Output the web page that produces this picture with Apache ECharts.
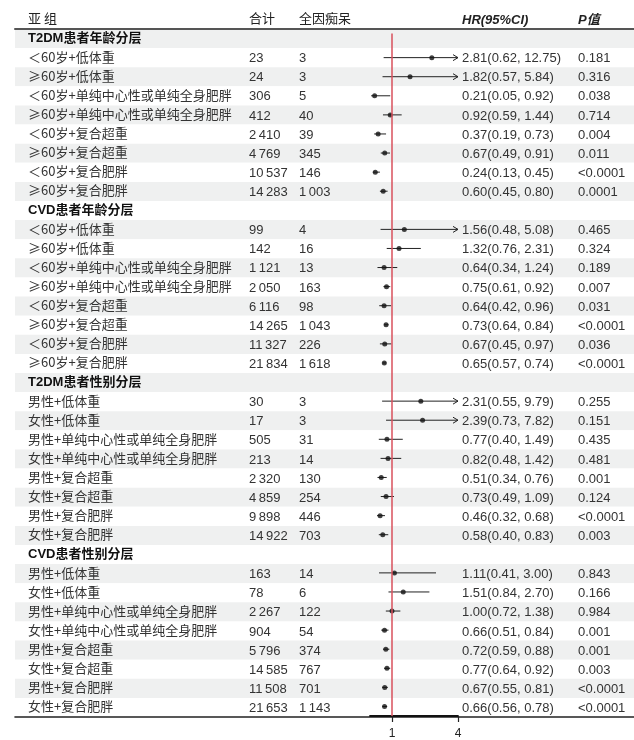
<!DOCTYPE html>
<html><head><meta charset="utf-8">
<script src="https://cdn.jsdelivr.net/npm/echarts@6/dist/echarts.min.js"></script>
<style>html,body{margin:0;padding:0;background:#fff}#c{width:634px;height:740px}</style>
</head><body><div id="c"></div>
<script>
const sections = ['T2DM患者年龄分层', 'CVD患者年龄分层', 'T2DM患者性别分层', 'CVD患者性别分层'];
const labels = [
  ['＜60岁+低体重','≥60岁+低体重','＜60岁+单纯中心性或单纯全身肥胖','≥60岁+单纯中心性或单纯全身肥胖','＜60岁+复合超重','≥60岁+复合超重','＜60岁+复合肥胖','≥60岁+复合肥胖'],
  ['＜60岁+低体重','≥60岁+低体重','＜60岁+单纯中心性或单纯全身肥胖','≥60岁+单纯中心性或单纯全身肥胖','＜60岁+复合超重','≥60岁+复合超重','＜60岁+复合肥胖','≥60岁+复合肥胖'],
  ['男性+低体重','女性+低体重','男性+单纯中心性或单纯全身肥胖','女性+单纯中心性或单纯全身肥胖','男性+复合超重','女性+复合超重','男性+复合肥胖','女性+复合肥胖'],
  ['男性+低体重','女性+低体重','男性+单纯中心性或单纯全身肥胖','女性+单纯中心性或单纯全身肥胖','男性+复合超重','女性+复合超重','男性+复合肥胖','女性+复合肥胖']
];
const totals = [
  [23, 24, 306, 412, 2410, 4769, 10537, 14283],
  [99, 142, 1121, 2050, 6116, 14265, 11327, 21834],
  [30, 17, 505, 213, 2320, 4859, 9898, 14922],
  [163, 78, 2267, 904, 5796, 14585, 11508, 21653]
];
const cases = [
  [3, 3, 5, 40, 39, 345, 146, 1003],
  [4, 16, 13, 163, 98, 1043, 226, 1618],
  [3, 3, 31, 14, 130, 254, 446, 703],
  [14, 6, 122, 54, 374, 767, 701, 1143]
];
const hrs = [
  [2.81, 1.82, 0.21, 0.92, 0.37, 0.67, 0.24, 0.60],
  [1.56, 1.32, 0.64, 0.75, 0.64, 0.73, 0.67, 0.65],
  [2.31, 2.39, 0.77, 0.82, 0.51, 0.73, 0.46, 0.58],
  [1.11, 1.51, 1.00, 0.66, 0.72, 0.77, 0.67, 0.66]
];
const lows = [
  [0.62, 0.57, 0.05, 0.59, 0.19, 0.49, 0.13, 0.45],
  [0.48, 0.76, 0.34, 0.61, 0.42, 0.64, 0.45, 0.57],
  [0.55, 0.73, 0.40, 0.48, 0.34, 0.49, 0.32, 0.40],
  [0.41, 0.84, 0.72, 0.51, 0.59, 0.64, 0.55, 0.56]
];
const highs = [
  [12.75, 5.84, 0.92, 1.44, 0.73, 0.91, 0.45, 0.80],
  [5.08, 2.31, 1.24, 0.92, 0.96, 0.84, 0.97, 0.74],
  [9.79, 7.82, 1.49, 1.42, 0.76, 1.09, 0.68, 0.83],
  [3.00, 2.70, 1.38, 0.84, 0.88, 0.92, 0.81, 0.78]
];
const pvals = [
  ['0.181','0.316','0.038','0.714','0.004','0.011','<0.0001','0.0001'],
  ['0.465','0.324','0.189','0.007','0.031','<0.0001','0.036','<0.0001'],
  ['0.255','0.151','0.435','0.481','0.001','0.124','<0.0001','0.003'],
  ['0.843','0.166','0.984','0.001','0.001','0.003','<0.0001','<0.0001']
];
const headers = ['亚 组', '合计', '全因痴呆', 'HR(95%CI)', 'P值'];
const xTicks = [1, 4];
const axisMin = 0, axisMax = 4;

// build rows
const rows = [];
sections.forEach((s, si) => {
  rows.push({header: true, name: s});
  labels[si].forEach((l, i) => {
    rows.push({header: false, name: l, total: totals[si][i], cases: cases[si][i],
      hr: hrs[si][i], lo: lows[si][i], hi: highs[si][i], p: pvals[si][i]});
  });
});
const nRows = rows.length;
const fmt = n => { const s = String(n); return s.length > 3 ? s.slice(0, s.length - 3) + '\u2009' + s.slice(-3) : s; };
const f2 = v => v.toFixed(2);

const TOP = 29, BOTTOM = 23;
const colX = [28, 249, 299, 462, 578];
const numFont = "13px 'Liberation Sans', Arial, 'Noto Sans CJK SC'";
const cjkFont = "13px 'Noto Sans CJK SC'";

const chart = echarts.init(document.getElementById('c'), null, {renderer: 'canvas'});
chart.setOption({
  animation: false,
  grid: [
    {left: 15, right: 0, top: TOP, bottom: BOTTOM},
    {left: 370, width: 88, top: TOP, bottom: BOTTOM}
  ],
  xAxis: [
    {gridIndex: 0, type: 'value', min: 0, max: 1, position: 'bottom',
     axisLine: {show: true, onZero: false, lineStyle: {color: '#222', width: 1.6}}, axisTick: {show: false}, axisLabel: {show: false}, splitLine: {show: false}},
    {gridIndex: 0, type: 'value', min: 0, max: 1, position: 'top',
     axisLine: {show: true, onZero: false, lineStyle: {color: '#555', width: 2}}, axisTick: {show: false}, axisLabel: {show: false}, splitLine: {show: false}},
    {gridIndex: 1, type: 'value', min: axisMin, max: axisMax, position: 'bottom',
     axisLine: {show: true, onZero: false, lineStyle: {color: '#111', width: 1.8}},
     axisTick: {show: true, customValues: xTicks, length: 6, lineStyle: {color: '#222', width: 1.2}},
     axisLabel: {show: true, customValues: xTicks, color: '#222', fontSize: 12, margin: 12, fontFamily: "'Liberation Sans', Arial"},
     splitLine: {show: false}}
  ],
  yAxis: [
    {gridIndex: 0, type: 'category', inverse: true, data: rows.map((r, i) => i),
     axisLine: {show: false}, axisTick: {show: false}, axisLabel: {show: false},
     splitLine: {show: false}, splitArea: {show: true, areaStyle: {color: ['#eff0f0', '#ffffff']}}},
    {gridIndex: 1, type: 'value', inverse: true, min: -0.5, max: nRows - 0.5, show: false}
  ],
  graphic: headers.map((h, i) => ({
    type: 'text', left: colX[i], top: i >= 3 ? 14 : 12,
    style: {text: h, fill: '#222',
      font: (i >= 3 ? "italic bold 13px 'Liberation Sans', Arial, 'Noto Sans CJK SC'" : "13px 'Noto Sans CJK SC'")}
  })),
  series: [
    {
      type: 'custom', xAxisIndex: 0, yAxisIndex: 0, silent: true,
      data: rows.map((r, i) => [0, i]),
      renderItem: (params, api) => {
        const idx = api.value(1);
        const r = rows[idx];
        const y = api.coord([0, idx])[1];
        if (r.header) {
          return {type: 'text', x: colX[0], y: y,
            style: {text: r.name, fill: '#111', font: "bold 13px 'Liberation Sans', 'Noto Sans CJK SC'", verticalAlign: 'middle'}};
        }
        const mk = (x, dy, t, font) => ({type: 'text', x: x, y: y + dy, style: {text: t, fill: '#333', font: font, verticalAlign: 'middle'}});
        return {type: 'group', children: [
          mk(colX[0], -1, r.name, cjkFont),
          mk(colX[1], 1, fmt(r.total), numFont),
          mk(colX[2], 1, fmt(r.cases), numFont),
          mk(colX[3], 1, f2(r.hr) + '(' + f2(r.lo) + ', ' + f2(r.hi) + ')', numFont),
          mk(colX[4], 1, r.p, numFont)
        ]};
      }
    },
    {
      type: 'custom', xAxisIndex: 2, yAxisIndex: 1, silent: true, clip: false,
      data: rows.map((r, i) => r.header ? null : [r.lo, r.hi, i]).filter(d => d),
      renderItem: (params, api) => {
        const lo = api.value(0), hi = api.value(1), row = api.value(2);
        const p1 = api.coord([Math.max(lo, axisMin), row]);
        const p2 = api.coord([Math.min(hi, axisMax), row]);
        const ch = [{type: 'line', shape: {x1: p1[0], y1: p1[1], x2: p2[0], y2: p2[1]}, style: {stroke: '#222', lineWidth: 1}}];
        if (hi > axisMax) {
          ch.push({type: 'polyline', shape: {points: [[p2[0] - 5, p2[1] - 3], [p2[0], p2[1]], [p2[0] - 5, p2[1] + 3]]}, style: {stroke: '#222', lineWidth: 1, fill: null}});
        }
        return {type: 'group', children: ch};
      }
    },
    {
      type: 'scatter', xAxisIndex: 2, yAxisIndex: 1, silent: true,
      symbol: 'circle', symbolSize: 5, itemStyle: {color: '#111'},
      data: rows.map((r, i) => r.header ? null : [r.hr, i]).filter(d => d),
      markLine: {silent: true, symbol: 'none', label: {show: false},
        lineStyle: {color: '#d9505c', width: 1.5, type: 'solid'},
        data: [[{coord: [1, -0.27]}, {coord: [1, nRows - 0.5]}]]}
    }
  ]
});
</script></body></html>
